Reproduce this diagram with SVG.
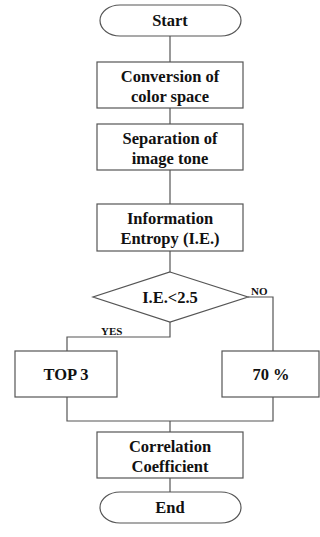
<svg xmlns="http://www.w3.org/2000/svg" width="320" height="537" viewBox="0 0 320 537">
<style>
.box{fill:#fff;stroke:#555;stroke-width:1.2}
.ln{fill:none;stroke:#555;stroke-width:1.2}
text{font-family:"Liberation Serif",serif;font-weight:bold;fill:#111}
.t{font-size:16.5px;text-anchor:middle}
.s{font-size:11px}
</style>
<rect width="320" height="537" fill="#fff"/>
<g id="connectors">
<line class="ln" x1="170" y1="36" x2="170" y2="62"/>
<line class="ln" x1="170" y1="108" x2="170" y2="124"/>
<line class="ln" x1="170" y1="170" x2="170" y2="204"/>
<line class="ln" x1="170" y1="251" x2="170" y2="272"/>
<polyline class="ln" points="248,297 273,297 273,351"/>
<polyline class="ln" points="170,322 170,337 67,337 67,351"/>
<polyline class="ln" points="67,397 67,421 273,421 273,397"/>
<line class="ln" x1="170" y1="421" x2="170" y2="432"/>
<line class="ln" x1="170" y1="478" x2="170" y2="492"/>
<text class="s" x="251" y="295">NO</text>
<text class="s" x="101" y="335">YES</text>
</g>
<g id="start">
<rect class="box" x="100" y="5" width="141" height="31" rx="20" ry="15.5"/>
<text class="t" x="170" y="26">Start</text>
</g>
<g id="conversion">
<rect class="box" x="97" y="62" width="146" height="46"/>
<text class="t" x="170" y="82">Conversion of</text>
<text class="t" x="170" y="102">color space</text>
</g>
<g id="separation">
<rect class="box" x="97" y="124" width="146" height="46"/>
<text class="t" x="170" y="144">Separation of</text>
<text class="t" x="170" y="164">image tone</text>
</g>
<g id="entropy">
<rect class="box" x="97" y="204" width="146" height="47"/>
<text class="t" x="170" y="224">Information</text>
<text class="t" x="170" y="244">Entropy (I.E.)</text>
</g>
<g id="decision">
<polygon class="box" points="170,272 248,297 170,322 93,297"/>
<text class="t" x="170" y="303">I.E.&lt;2.5</text>
</g>
<g id="top3">
<rect class="box" x="15" y="351" width="102" height="46"/>
<text class="t" x="66" y="380">TOP 3</text>
</g>
<g id="seventy">
<rect class="box" x="222" y="351" width="97" height="46"/>
<text class="t" x="271" y="380">70 %</text>
</g>
<g id="correlation">
<rect class="box" x="97" y="432" width="146" height="46"/>
<text class="t" x="170" y="452">Correlation</text>
<text class="t" x="170" y="472">Coefficient</text>
</g>
<g id="end">
<rect class="box" x="100" y="492" width="141" height="31" rx="20" ry="15.5"/>
<text class="t" x="170" y="513">End</text>
</g>
</svg>
